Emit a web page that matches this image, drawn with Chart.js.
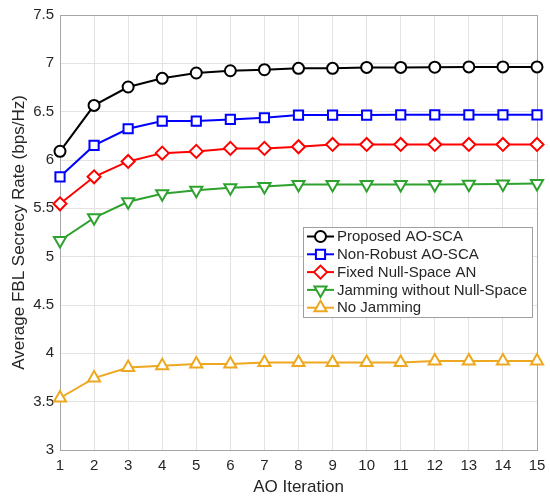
<!DOCTYPE html>
<html>
<head>
<meta charset="utf-8">
<script src="https://cdn.jsdelivr.net/npm/chart.js@4"></script>
<style>
html,body{margin:0;padding:0;background:#fff;}
#c{display:block;}
</style>
</head>
<body>
<canvas id="c" width="550" height="498"></canvas>
<script>
const iterations = [1,2,3,4,5,6,7,8,9,10,11,12,13,14,15];
const proposed   = [6.09,6.565,6.755,6.845,6.90,6.923,6.934,6.948,6.948,6.958,6.958,6.96,6.963,6.963,6.963];
const nonRobust  = [5.826,6.151,6.323,6.403,6.403,6.42,6.437,6.465,6.465,6.465,6.467,6.467,6.467,6.467,6.467];
const fixedNull  = [5.547,5.826,5.985,6.071,6.089,6.12,6.12,6.137,6.161,6.161,6.161,6.161,6.161,6.161,6.161];
const jamNoNull  = [5.167,5.402,5.568,5.65,5.688,5.712,5.726,5.747,5.747,5.747,5.747,5.747,5.75,5.752,5.757];
const noJamming  = [3.538,3.744,3.854,3.871,3.89,3.89,3.905,3.905,3.905,3.905,3.905,3.92,3.92,3.92,3.92];
const seriesNames = ['Proposed AO-SCA','Non-Robust AO-SCA','Fixed Null-Space AN','Jamming without Null-Space','No Jamming'];
const yTicks = [3,3.5,4,4.5,5,5.5,6,6.5,7,7.5];

const FONT = '"Liberation Sans", Arial, sans-serif';

function mk(label, data, color, style, radius, rotation){
  return {
    label, data: data.map((v,i)=>({x:iterations[i], y:v})),
    borderColor: color, backgroundColor: '#ffffff',
    pointBorderColor: color, pointBackgroundColor: '#ffffff',
    borderWidth: 2, pointBorderWidth: 2,
    pointStyle: style, pointRadius: radius, pointHoverRadius: radius,
    pointRotation: rotation || 0, tension: 0, fill: false, clip: false
  };
}

const datasets = [
  mk(seriesNames[0], proposed, '#000000', 'circle', 5.5),
  mk(seriesNames[1], nonRobust, '#0000FF', 'rect', 6.5),
  mk(seriesNames[2], fixedNull, '#FF0000', 'rectRot', 6.5),
  mk(seriesNames[3], jamNoNull, '#2EA22E', 'triangle', 7, 180),
  mk(seriesNames[4], noJamming, '#EDA820', 'triangle', 7)
];

const legendPlugin = {
  id: 'boxLegend',
  afterDatasetsDraw(chart){
    const ctx = chart.ctx;
    const x0 = 303, y0 = 227, w = 229, h = 90;
    ctx.save();
    ctx.fillStyle = '#ffffff';
    ctx.fillRect(x0, y0, w, h);
    ctx.strokeStyle = '#a0a0a0';
    ctx.lineWidth = 1;
    ctx.strokeRect(x0+0.5, y0+0.5, w, h);
    ctx.font = '15px ' + FONT;
    ctx.textBaseline = 'middle';
    chart.data.datasets.forEach((ds, i) => {
      const cy = y0 + 9.5 + i*17.8;
      ctx.strokeStyle = ds.borderColor;
      ctx.lineWidth = 2;
      ctx.beginPath();
      ctx.moveTo(x0+4, cy);
      ctx.lineTo(x0+31, cy);
      ctx.stroke();
      ctx.fillStyle = '#ffffff';
      ctx.strokeStyle = ds.borderColor;
      Chart.helpers.drawPoint(ctx, {pointStyle: ds.pointStyle, radius: ds.pointRadius, rotation: ds.pointRotation, borderWidth: 2}, x0+17.5, cy);
      ctx.fillStyle = '#262626';
      ctx.fillText(ds.label, x0+34, cy+0.5);
    });
    ctx.restore();
  }
};

const boxPlugin = {
  id: 'axBox',
  beforeDatasetsDraw(chart){
    const {ctx, chartArea:a} = chart;
    ctx.save();
    ctx.strokeStyle = '#a6a6a6';
    ctx.lineWidth = 1;
    ctx.strokeRect(Math.round(a.left)+0.5, Math.round(a.top)+0.5, Math.round(a.right-a.left), Math.round(a.bottom-a.top));
    ctx.restore();
  }
};

new Chart(document.getElementById('c'), {
  type: 'line',
  data: { datasets },
  plugins: [boxPlugin, legendPlugin],
  options: {
    responsive: false,
    animation: false,
    events: [],
    layout: { padding: { left: 0, right: 13, top: 14, bottom: 0 } },
    plugins: { legend: { display: false }, tooltip: { enabled: false } },
    scales: {
      x: {
        type: 'linear', min: 1, max: 15,
        afterFit(s){ s.height = 48; s.paddingLeft = 0; s.paddingRight = 0; },
        afterBuildTicks(s){ s.ticks = iterations.map(v=>({value:v})); },
        ticks: { color: '#262626', font: { family: FONT, size: 15 }, padding: 7, maxRotation: 0, autoSkip: false },
        grid: { color: '#e3e3e3', lineWidth: 1, drawTicks: false },
        border: { display: false },
        title: { display: true, text: 'AO Iteration', color: '#262626', font: { family: FONT, size: 17 }, padding: { top: 0, bottom: 0 } }
      },
      y: {
        type: 'linear', min: 3, max: 7.5,
        afterFit(s){ s.width = 60; },
        afterBuildTicks(s){ s.ticks = yTicks.map(v=>({value:v})); },
        ticks: { color: '#262626', font: { family: FONT, size: 15 }, padding: 6, callback: v => String(v) },
        grid: { color: '#e3e3e3', lineWidth: 1, drawTicks: false },
        border: { display: false },
        title: { display: true, text: 'Average FBL Secrecy Rate (bps/Hz)', color: '#262626', font: { family: FONT, size: 17 }, padding: { top: 9, bottom: 0 } }
      }
    }
  }
});
</script>
</body>
</html>
